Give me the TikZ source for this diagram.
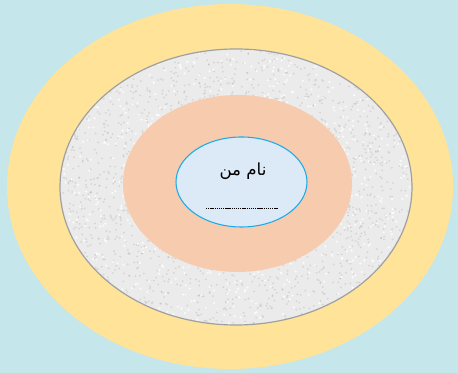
\documentclass[tikz,border=0pt]{standalone}
\usepackage{fontspec}
\newfontfamily\arabicfont[Script=Arabic]{DejaVu Sans}
\TeXXeTstate=1
\definecolor{skyback}{HTML}{C5E6EB}
\definecolor{sunyellow}{HTML}{FEE399}
\definecolor{stonegray}{HTML}{EBEBEB}
\definecolor{stoneline}{HTML}{A0A0A0}
\definecolor{peach}{HTML}{F7CBAE}
\definecolor{iceblue}{HTML}{DCE9F6}
\definecolor{iceline}{HTML}{1EAAE6}

\begin{document}
\begin{tikzpicture}[x=0.75pt, y=-0.75pt]
  \fill[skyback] (0,0) rectangle (458,373);
  \fill[sunyellow] (230,186.5) ellipse (223 and 182.5);
  \fill[stonegray] (236,187) ellipse (176 and 138);
  \begin{scope}
    \clip (236,187) ellipse (176 and 138);
    \pgfmathsetseed{11}
    \foreach \i in {1,...,2200}
      \fill[gray!60, opacity=0.4] (60+352*rnd,49+276*rnd) circle (1.0);
    \foreach \i in {1,...,900}
      \fill[white, opacity=0.8] (60+352*rnd,49+276*rnd) circle (1.2);
  \end{scope}
  \draw[stoneline, line width=0.9pt] (236,187) ellipse (176 and 138);
  \fill[peach] (237.5,183.5) ellipse (114.5 and 88.5);
  \draw[iceline, line width=0.8pt, fill=iceblue] (241.5,182) ellipse (65.5 and 45);
  \node (myname) at (243,171) {\fontsize{12.5}{14}\arabicfont\beginR نام من\endR};
  \coordinate (lineL) at (206,208);
  \coordinate (lineR) at (278,208);
  \draw[dash pattern=on 1pt off 0.6pt, line width=0.5pt] (lineL) -- (lineR);
\end{tikzpicture}
\end{document}
